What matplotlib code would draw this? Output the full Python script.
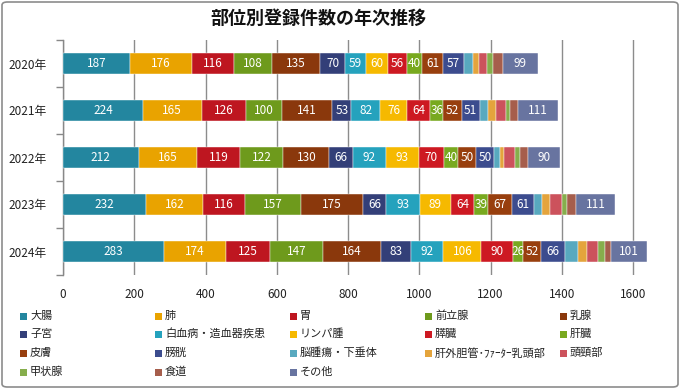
import matplotlib
matplotlib.use("Agg")
import matplotlib.pyplot as plt
from matplotlib.patches import Rectangle, FancyBboxPatch
import numpy as np

plt.rcParams['font.family'] = ['Noto Sans CJK JP', 'DejaVu Sans']

years = ['2020年', '2021年', '2022年', '2023年', '2024年']
sites = ['大腸', '肺', '胃', '前立腺', '乳腺', '子宮', '白血病・造血器疾患', 'リンパ腫',
         '膵臓', '肝臓', '皮膚', '膀胱', '脳腫瘍・下垂体', '肝外胆管･ﾌｧｰﾀｰ乳頭部',
         '頭頸部', '甲状腺', '食道', 'その他']
colors = ['#23869F', '#E9A300', '#BE1620', '#6E9A1C', '#8A380C', '#333F78', '#25A2BD',
          '#F6B900', '#CD1922', '#78A91F', '#983F0E', '#3C4C8E', '#58A9BF', '#E4A43C',
          '#CC525C', '#86AE4C', '#A65E4C', '#6874A0']

v_daicho = [187, 224, 212, 232, 283]
v_hai = [176, 165, 165, 162, 174]
v_i = [116, 126, 119, 116, 125]
v_zenritsusen = [108, 100, 122, 157, 147]
v_nyusen = [135, 141, 130, 175, 164]
v_shikyu = [70, 53, 66, 66, 83]
v_hakketsubyo = [59, 82, 92, 93, 92]
v_lymph = [60, 76, 93, 89, 106]
v_suizo = [56, 64, 70, 64, 90]
v_kanzo = [40, 36, 40, 39, 26]
v_hifu = [61, 52, 50, 67, 52]
v_boko = [57, 51, 50, 61, 66]
v_nou = [25, 22, 18, 24, 37]
v_tankan = [17, 23, 12, 22, 25]
v_toukeibu = [22, 28, 30, 34, 32]
v_koujousen = [19, 12, 14, 14, 18]
v_shokudo = [26, 23, 23, 24, 17]
v_sonota = [99, 111, 90, 111, 101]

values = [v_daicho, v_hai, v_i, v_zenritsusen, v_nyusen, v_shikyu, v_hakketsubyo,
          v_lymph, v_suizo, v_kanzo, v_hifu, v_boko, v_nou, v_tankan, v_toukeibu,
          v_koujousen, v_shokudo, v_sonota]
unlabeled = {'脳腫瘍・下垂体', '肝外胆管･ﾌｧｰﾀｰ乳頭部', '頭頸部', '甲状腺', '食道'}
xticks = [0, 200, 400, 600, 800, 1000, 1200, 1400, 1600]

W, H = 680, 389
fig = plt.figure(figsize=(W / 100, H / 100), dpi=100)
fig.patch.set_facecolor('white')
fig.patches.append(FancyBboxPatch((2 / W, 2 / H), 1 - 4 / W, 1 - 4 / H,
                                  boxstyle='round,pad=0,rounding_size=0.008',
                                  transform=fig.transFigure, facecolor='white',
                                  edgecolor='#8C8C8C', linewidth=1.2, zorder=-5))

XMAX = 1680
px_per_unit = (633 - 63) / 1600
ax = fig.add_axes([63 / W, 1 - 275 / H, XMAX * px_per_unit / W, (275 - 40) / H])
ax.set_facecolor('none')
y = np.arange(len(years))
left = np.zeros(len(years))
for name, vals, col in zip(sites, values, colors):
    vals = np.array(vals, dtype=float)
    bars = ax.barh(y, vals, left=left, height=0.43, color=col,
                   edgecolor='#FFFFFF', linewidth=0.3, zorder=3)
    if name not in unlabeled:
        ax.bar_label(bars, labels=[str(int(v)) for v in vals], label_type='center',
                     color='white', fontsize=8.5, zorder=4)
    left += vals

ax.set_xlim(0, XMAX)
ax.set_ylim(len(years) - 0.5, -0.5)
ax.set_xticks(xticks)
ax.set_xticklabels([str(t) for t in xticks], fontsize=8.5, color='#222222')
ax.set_yticks(y)
ax.set_yticklabels(years, fontsize=8.5, color='#222222')
ax.set_yticks(np.arange(-0.5, len(years)), minor=True)
ax.tick_params(axis='y', which='major', length=0, pad=12)
ax.tick_params(axis='y', which='minor', length=5, color='#888888', width=1)
ax.tick_params(axis='x', length=0, pad=9)
for s in ['top', 'right', 'bottom']:
    ax.spines[s].set_visible(False)
ax.spines['left'].set_color('#888888')
ax.spines['left'].set_linewidth(1)
ax.grid(axis='x', color='#8C8C8C', linewidth=1, zorder=0)
ax.set_axisbelow(True)

fig.text(318 / W, 1 - 18 / H, '部位別登録件数の年次推移', ha='center', va='center',
         fontsize=13, fontweight='bold', color='#111111')

# legend, row-major in 5 columns
col_x = [20, 155, 290, 425, 560]
row_y = [316, 334, 353, 372]
for i, (name, col) in enumerate(zip(sites, colors)):
    r, c = divmod(i, 5)
    x0, y0 = col_x[c], row_y[r]
    fig.patches.append(Rectangle((x0 / W, (H - y0 - 3.5) / H), 7 / W, 7 / H,
                                 transform=fig.transFigure, facecolor=col,
                                 edgecolor='none'))
    fig.text((x0 + 10) / W, 1 - y0 / H, name, ha='left', va='center',
             fontsize=8, color='#222222')

fig.savefig('out.png', dpi=100)
